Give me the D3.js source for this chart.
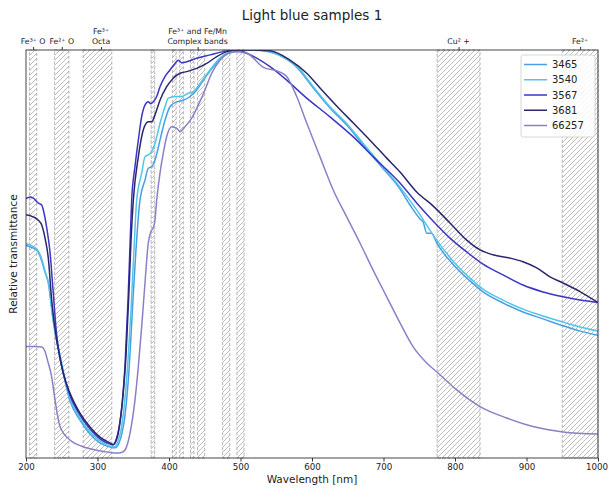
<!DOCTYPE html>
<html><head><meta charset="utf-8">
<script src="https://cdn.jsdelivr.net/npm/d3@7"></script>
<style>body{margin:0;background:#fff}svg{display:block}text{font-family:"DejaVu Sans",sans-serif;fill:#222}</style>
</head><body><svg id="c" width="608" height="495"></svg>
<script>
// ---- data ----
const bands = [[205,215],[240,260],[280,320],[375,380],[405,410],[415,420],[430,435],[440,450],[475,485],[495,505],[775,835],[950,1000]];
const topTicks = [210, 250, 305, 440, 805, 975];
const topLabels = [["Fe³⁺ O"],["Fe²⁺ O"],["Fe³⁺","Octa"],["Fe³⁺  and Fe/Mn","Complex bands"],["Cu² +"],["Fe²⁺"]];
const xTicks = [200,300,400,500,600,700,800,900,1000];
const seriesNames = ["3465","3540","3567","3681","66257"];
const seriesColors = ["#4a9fe4","#52c6e6","#3b36c4","#28276e","#8a80c8"];

const s3465 = [[200,0.521],[208,0.516],[212.6,0.512],[217.2,0.504],[222,0.483],[226.6,0.455],[231.2,0.429],[238.2,0.333],[247.6,0.248],[261.5,0.140],[275.5,0.093],[289.5,0.059],[303.5,0.037],[317.5,0.027],[324.5,0.025],[330.1,0.037],[334.3,0.061],[338.5,0.105],[344.1,0.216],[349.6,0.387],[353.8,0.510],[359.4,0.632],[366.4,0.681],[371,0.710],[375.8,0.714],[380.4,0.730],[387.4,0.779],[394.4,0.828],[401.4,0.861],[410.8,0.873],[420,0.877],[429.4,0.886],[438.7,0.902],[448,0.926],[462,0.959],[475.9,0.984],[489.9,0.996],[506.3,1.0],[527.3,0.999],[550.6,0.990],[578.6,0.958],[601.8,0.907],[625.2,0.858],[648.5,0.816],[671.7,0.767],[695.1,0.718],[723.1,0.659],[737.1,0.620],[751,0.586],[755.6,0.578],[760.4,0.551],[767.4,0.551],[774.4,0.527],[797.2,0.475],[821,0.434],[839.2,0.407],[867.1,0.380],[895.1,0.358],[923.1,0.341],[951.1,0.324],[974.8,0.311],[1000,0.301]];

const s3540 = [[200,0.525],[208,0.520],[212.6,0.516],[217.2,0.507],[222,0.488],[226.6,0.458],[231.2,0.432],[238.2,0.338],[247.6,0.252],[261.5,0.147],[275.5,0.098],[289.5,0.064],[303.5,0.042],[317.5,0.029],[323.1,0.027],[328.7,0.042],[332.9,0.069],[337.1,0.123],[342.7,0.240],[346.9,0.363],[351,0.510],[354.8,0.632],[361.8,0.698],[366.4,0.738],[371,0.743],[375.8,0.751],[380.4,0.771],[387.4,0.820],[394.4,0.861],[399,0.882],[408.4,0.886],[417.8,0.886],[427,0.894],[434,0.898],[443.4,0.918],[457.3,0.951],[471.3,0.980],[485.3,0.996],[499.3,1.0],[520.3,1.0],[535.7,0.998],[550.6,0.990],[578.6,0.961],[601.8,0.910],[625.2,0.861],[648.5,0.820],[671.7,0.771],[695.1,0.722],[723.1,0.664],[746.4,0.608],[774.4,0.534],[797.2,0.483],[821,0.441],[839.2,0.414],[867.1,0.387],[895.1,0.365],[923.1,0.348],[951.1,0.333],[974.8,0.321],[1000,0.311]];

const s3567 = [[200,0.636],[205.6,0.640],[210.2,0.637],[217.2,0.625],[222,0.620],[224.2,0.608],[229,0.564],[233.6,0.505],[237.8,0.412],[242.9,0.301],[247.6,0.245],[252.2,0.206],[261.5,0.154],[275.5,0.105],[289.5,0.071],[303.5,0.047],[317.5,0.034],[321.7,0.032],[325.9,0.044],[330.1,0.074],[334.3,0.130],[338.5,0.228],[342.7,0.387],[345.5,0.522],[347.8,0.632],[352.4,0.714],[357.1,0.779],[361.8,0.837],[366.4,0.865],[371,0.873],[374.4,0.868],[378,0.873],[382.8,0.886],[387.4,0.910],[394.4,0.935],[401.4,0.951],[408.4,0.967],[413,0.975],[417.8,0.969],[424.8,0.971],[438.7,0.980],[457.3,0.988],[475.9,0.996],[489.9,1.0],[499.3,0.999],[508.7,0.992],[522.7,0.980],[541.3,0.959],[564.6,0.926],[592.6,0.882],[625.2,0.836],[657.8,0.787],[685.7,0.738],[723.1,0.674],[746.4,0.625],[769.2,0.581],[793,0.539],[816.4,0.505],[839.2,0.475],[867.1,0.449],[895.1,0.424],[923.1,0.407],[951.1,0.395],[974.8,0.387],[1000,0.381]];

const s3681 = [[200,0.596],[210.2,0.591],[217.2,0.583],[222,0.571],[226.6,0.539],[231.2,0.490],[235.9,0.387],[242.9,0.289],[247.6,0.245],[252.2,0.208],[261.5,0.159],[275.5,0.110],[289.5,0.076],[303.5,0.051],[317.5,0.037],[321.7,0.033],[327.3,0.049],[331.5,0.088],[335.7,0.154],[339.9,0.252],[344.1,0.412],[346.9,0.534],[350.1,0.632],[357.1,0.738],[364,0.804],[371,0.824],[375.8,0.824],[380.4,0.841],[387.4,0.877],[396.8,0.910],[406,0.931],[415.4,0.943],[424.8,0.947],[438.7,0.955],[452.7,0.967],[466.7,0.984],[480.7,0.996],[494.7,1.0],[513.3,1.0],[541.3,0.998],[569.2,0.975],[592.6,0.943],[611.2,0.907],[634.5,0.863],[657.8,0.821],[681.1,0.779],[704.5,0.735],[723.1,0.701],[746.4,0.652],[769.2,0.618],[793,0.576],[816.4,0.534],[835,0.510],[853.1,0.498],[876.9,0.490],[895.1,0.481],[914.3,0.466],[932.9,0.444],[951.1,0.429],[974.8,0.408],[1000,0.381]];

const s66257 = [[200,0.273],[212.6,0.273],[222,0.272],[226.6,0.261],[230.8,0.235],[235.9,0.199],[240.6,0.142],[247.6,0.077],[261.5,0.044],[284.9,0.025],[312.9,0.015],[328.7,0.012],[335.7,0.015],[340.8,0.028],[345.5,0.061],[352.4,0.142],[357.1,0.224],[361.8,0.322],[366.4,0.429],[371,0.527],[374.8,0.555],[378,0.564],[380.4,0.583],[382.8,0.632],[387.4,0.698],[392,0.747],[396.8,0.788],[403.8,0.812],[410.8,0.808],[415.4,0.800],[422.4,0.812],[431.7,0.833],[441,0.865],[450.3,0.902],[459.7,0.943],[471.3,0.975],[482.9,0.992],[494.7,0.996],[508.7,0.992],[531.5,0.958],[555.2,0.946],[564.6,0.935],[578.6,0.886],[592.6,0.821],[611.2,0.738],[629.7,0.657],[648.5,0.591],[667.1,0.527],[685.3,0.461],[704.5,0.395],[723.1,0.331],[741.3,0.273],[760.4,0.233],[775.8,0.209],[802.4,0.167],[835,0.126],[872.3,0.098],[909.1,0.077],[951.1,0.064],[1000,0.059]];

const seriesData = [s3465, s3540, s3567, s3681, s66257];

// ---- drawing ----
const L = 26, R = 598, T = 50, B = 458;
const svg = d3.select("#c");
const x = d3.scaleLinear().domain([200, 1000]).range([L, R]);
const y = d3.scaleLinear().domain([0, 1]).range([B, T]);

const defs = svg.append("defs");
const pat = defs.append("pattern").attr("id", "hatch").attr("patternUnits", "userSpaceOnUse")
  .attr("width", 5).attr("height", 5);
pat.append("path").attr("d", "M0,5 L5,0 M-1,1 L1,-1 M4,6 L6,4")
  .attr("stroke", "#ababab").attr("stroke-width", 0.8);
defs.append("clipPath").attr("id", "clip").append("rect")
  .attr("x", L).attr("y", T).attr("width", R - L).attr("height", B - T);

// bands
svg.append("g").selectAll("rect").data(bands).join("rect")
  .attr("x", d => x(d[0])).attr("y", T)
  .attr("width", d => x(d[1]) - x(d[0])).attr("height", B - T)
  .attr("fill", "url(#hatch)")
  .attr("stroke", "#a0a0a0").attr("stroke-width", 0.8).attr("stroke-dasharray", "3,2");

// lines
const line = d3.line().x(d => x(d[0])).y(d => y(d[1])).curve(d3.curveMonotoneX);
svg.append("g").attr("clip-path", "url(#clip)").selectAll("path").data(seriesData).join("path")
  .attr("d", line).attr("fill", "none")
  .attr("stroke", (d, i) => seriesColors[i]).attr("stroke-width", 1.5)
  .attr("stroke-linejoin", "round");

// frame
svg.append("rect").attr("x", L).attr("y", T).attr("width", R - L).attr("height", B - T)
  .attr("fill", "none").attr("stroke", "#333").attr("stroke-width", 0.9);

// bottom axis
const gx = svg.append("g").attr("transform", `translate(0,${B})`)
  .call(d3.axisBottom(x).tickValues(xTicks).tickSize(3.5).tickPadding(2).tickFormat(d3.format("d")));
gx.select(".domain").remove();
gx.selectAll("line").attr("stroke", "#333");
gx.selectAll("text").attr("font-size", 8.7).attr("font-family", "DejaVu Sans").attr("fill", "#222")
  .attr("dx", d => d === 1000 ? -1.5 : 0);

// top axis with band labels
const gt = svg.append("g").attr("transform", `translate(0,${T})`)
  .call(d3.axisTop(x).tickValues(topTicks).tickSize(3).tickFormat(""));
gt.select(".domain").remove();
gt.selectAll("line").attr("stroke", "#333");
const tl = svg.append("g").selectAll("text").data(topTicks).join("text")
  .attr("x", d => x(d)).attr("text-anchor", "middle").attr("font-size", 7.8);
tl.each(function(d, i) {
  const lines = topLabels[i];
  const n = lines.length;
  d3.select(this).selectAll("tspan").data(lines).join("tspan")
    .attr("x", x(d)).attr("y", (s, j) => 44 - (n - 1 - j) * 10).text(s => s);
});

// title and axis labels
svg.append("text").attr("x", (L + R) / 2).attr("y", 20).attr("text-anchor", "middle")
  .attr("font-size", 13.5).text("Light blue samples 1");
svg.append("text").attr("x", (L + R) / 2).attr("y", 483).attr("text-anchor", "middle")
  .attr("font-size", 10.5).text("Wavelength [nm]");
svg.append("text").attr("transform", `translate(17,${(T + B) / 2}) rotate(-90)`)
  .attr("text-anchor", "middle").attr("font-size", 10.5).text("Relative transmittance");

// legend
const lg = svg.append("g");
lg.append("rect").attr("x", 521).attr("y", 55).attr("width", 74).attr("height", 82).attr("rx", 2.5)
  .attr("fill", "#fff").attr("fill-opacity", 0.85).attr("stroke", "#ccc").attr("stroke-width", 0.8);
seriesNames.forEach((name, i) => {
  const yy = 64.5 + i * 15.25;
  lg.append("line").attr("x1", 524).attr("x2", 547).attr("y1", yy).attr("y2", yy)
    .attr("stroke", seriesColors[i]).attr("stroke-width", 1.5);
  lg.append("text").attr("x", 552).attr("y", yy).attr("dy", "0.35em").attr("font-size", 10).text(name);
});
</script></body></html>
